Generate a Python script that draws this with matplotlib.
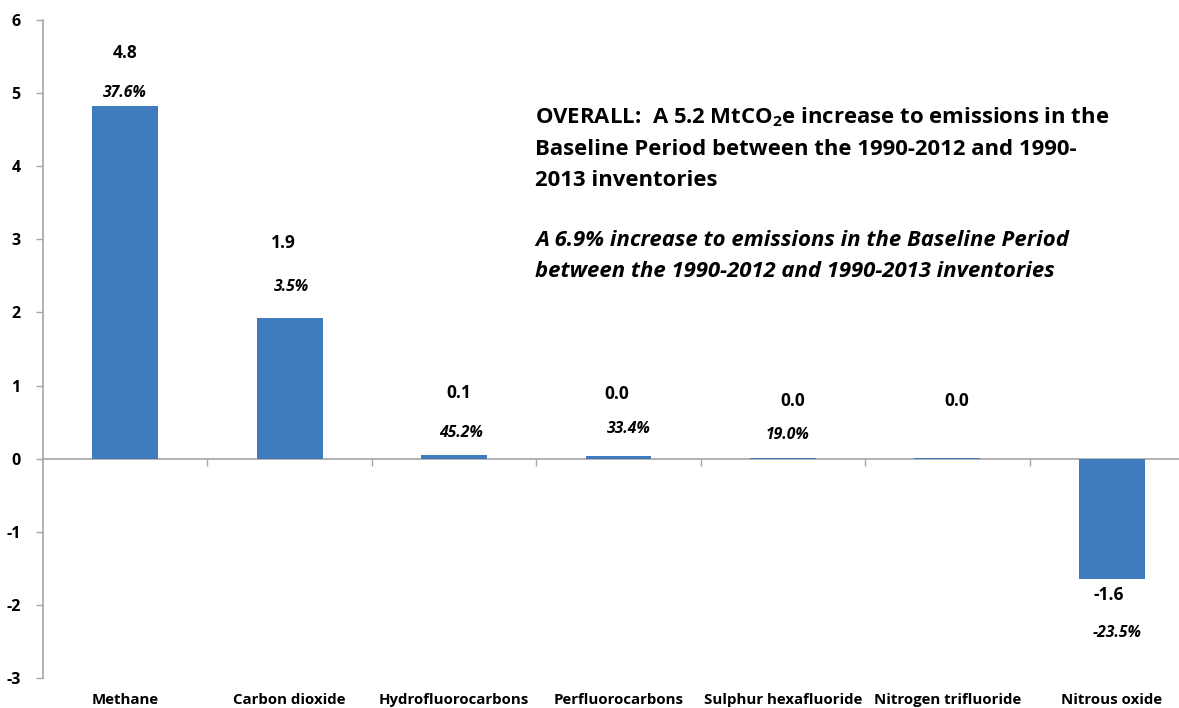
import matplotlib
matplotlib.use("Agg")
import matplotlib.pyplot as plt
import matplotlib.transforms as mtransforms

plt.rcParams['font.family'] = ['Open Sans', 'DejaVu Sans']

# Change in baseline-period emissions by gas (MtCO2e)
categories = ["Methane", "Carbon dioxide", "Hydrofluorocarbons", "Perfluorocarbons",
              "Sulphur hexafluoride", "Nitrogen trifluoride", "Nitrous oxide"]
values = [4.82, 1.93, 0.05, 0.03, 0.01, 0.005, -1.64]
value_labels = ["4.8", "1.9", "0.1", "0.0", "0.0", "0.0", "-1.6"]
pct_labels = ["37.6%", "3.5%", "45.2%", "33.4%", "19.0%", "", "-23.5%"]
yticks = [-3, -2, -1, 0, 1, 2, 3, 4, 5, 6]

# label placement (data y, x offset in category units)
value_label_y = [5.55, 2.95, 0.9, 0.88, 0.79, 0.79, -1.86]
value_label_dx = [0.0, -0.04, 0.03, -0.01, 0.06, 0.06, -0.02]
pct_label_y = [5.0, 2.35, 0.35, 0.41, 0.33, 0.0, -2.38]
pct_label_dx = [0.0, 0.01, 0.04, 0.06, 0.03, 0.0, 0.03]

W, H = 1179, 708
fig = plt.figure(figsize=(W / 100, H / 100), dpi=100)
left, right, top, bottom = 43, 1194, 20, 678
ax = fig.add_axes([left / W, 1 - bottom / H, (right - left) / W, (bottom - top) / H])

bar_color = "#3F7BBD"
axis_color = "#A6A6A6"

x = list(range(len(categories)))
ax.bar(x, values, width=0.4, color=bar_color, zorder=3)

ax.set_xlim(-0.5, len(categories) - 0.5)
ax.set_ylim(-3, 6)
ax.set_yticks(yticks)
ax.set_yticklabels([str(t) for t in yticks], fontsize=11.5, fontweight='bold')
ax.tick_params(axis='y', direction='out', length=5, width=1, color=axis_color, pad=11)

for s in ['top', 'right']:
    ax.spines[s].set_visible(False)
ax.spines['left'].set_color(axis_color)
ax.spines['bottom'].set_color(axis_color)
ax.spines['bottom'].set_position(('data', 0))
ax.spines['left'].set_linewidth(1.2)
ax.spines['bottom'].set_linewidth(1.2)

# category boundary ticks on the zero line
ax.set_xticks([i + 0.5 for i in range(len(categories) - 1)])
ax.set_xticklabels([])
ax.tick_params(axis='x', direction='out', length=5, width=1, color=axis_color)

# category names along the bottom of the chart
trans = mtransforms.blended_transform_factory(ax.transData, ax.transAxes)
for i, name in enumerate(categories):
    ax.text(i, -0.034, name, transform=trans, ha='center', va='center',
            fontsize=10.8, fontweight='bold', clip_on=False)

for i in x:
    ax.text(i + value_label_dx[i], value_label_y[i], value_labels[i], ha='center',
            va='center', fontsize=12.5, fontweight='bold')
    if pct_labels[i]:
        ax.text(i + pct_label_dx[i], pct_label_y[i], pct_labels[i], ha='center',
                va='center', fontsize=11.3, fontweight='bold', style='italic')

fig.text(535 / W, 1 - 105 / H,
         "OVERALL:  A 5.2 MtCO$_\\mathregular{2}$e increase to emissions in the\n"
         "Baseline Period between the 1990-2012 and 1990-\n2013 inventories",
         ha='left', va='top', fontsize=15.9, fontweight='bold', linespacing=1.63,
         transform=fig.transFigure)
fig.text(535 / W, 1 - 230 / H,
         "A 6.9% increase to emissions in the Baseline Period\n"
         "between the 1990-2012 and 1990-2013 inventories",
         ha='left', va='top', fontsize=15.9, fontweight='bold', style='italic',
         linespacing=1.6)

fig.savefig("out.png", dpi=100)
